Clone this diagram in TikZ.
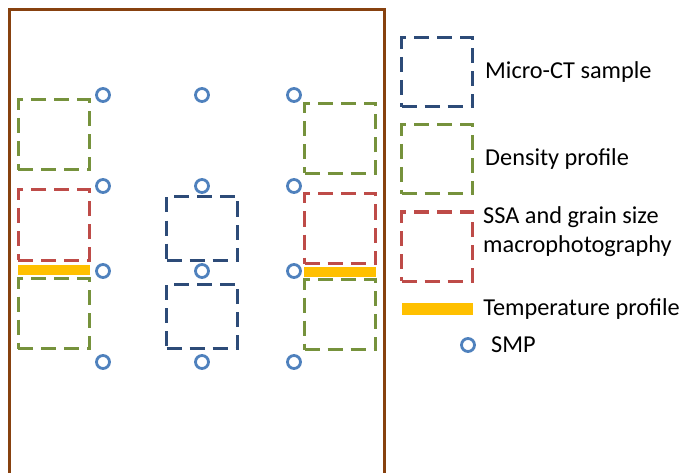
\documentclass[tikz,border=0pt]{standalone}
\usepackage{fontspec}
\setmainfont{Carlito}
\usetikzlibrary{positioning}
\definecolor{frame}{RGB}{135,65,15}
\definecolor{microct}{RGB}{45,75,120}
\definecolor{density}{RGB}{118,146,60}
\definecolor{ssa}{RGB}{190,75,72}
\definecolor{temp}{RGB}{255,192,0}
\definecolor{smp}{RGB}{79,129,189}

\begin{document}
\begin{tikzpicture}[x=1pt, y=-1pt, node distance=11pt]
    % Define styles
    \tikzstyle{sample} = [rectangle, draw, line width=3pt, dash pattern=on 15pt off 8pt, minimum width=71pt, minimum height=70pt, inner sep=0pt]
    \tikzstyle{mctbox} = [sample, draw=microct, minimum height=64pt]
    \tikzstyle{densbox} = [sample, draw=density]
    \tikzstyle{ssabox} = [sample, draw=ssa]
    \tikzstyle{tempbar} = [rectangle, fill=temp, minimum width=72pt, minimum height=10pt, inner sep=0pt]
    \tikzstyle{smp} = [circle, draw=smp, line width=2.8pt, minimum size=13pt, inner sep=0pt]
    \tikzstyle{legtext} = [font=\fontsize{24.3}{29}\selectfont, align=left, inner sep=0pt, anchor=west]

    \useasboundingbox (0,0) rectangle (685,473);
    \clip (0,0) rectangle (685,473);

    % Snow pit wall
    \draw[frame, line width=3pt] (9,10) rectangle (384,495);

    % Left column
    \node (dens-l1) [densbox] at (53.5,135) {};
    \node (ssa-l) [ssabox] at (53.5,225) {};
    \node (temp-l) [tempbar] at (54,269.5) {};
    \node (dens-l2) [densbox] at (53.5,313.5) {};

    % Middle column
    \node (mct-m1) [mctbox] at (202,228.5) {};
    \node (mct-m2) [mctbox] at (202,316) {};

    % Right column
    \node (dens-r1) [densbox] at (340,138.5) {};
    \node (ssa-r) [ssabox] at (340,228.5) {};
    \node (temp-r) [tempbar] at (340,272) {};
    \node (dens-r2) [densbox] at (340,314.5) {};

    % SMP profiles
    \foreach \x/\c in {103/l, 202/m, 294/r}
        \foreach \y/\r in {95/1, 186/2, 271/3, 362/4}
            \node (smp-\c\r) [smp] at (\x,\y) {};

    % Legend
    \node (leg-mct) [sample, draw=microct, minimum height=69pt] at (437,72.5) {};
    \node (leg-dens) [densbox, minimum height=69pt] at (437,159.5) {};
    \node (leg-ssa) [ssabox, minimum height=69pt] at (437,246.5) {};
    \node (leg-temp) [tempbar, minimum width=71pt, minimum height=12pt] at (437.5,309) {};
    \node (leg-smp) [smp] at (468,345) {};

    \node [legtext, right=of leg-mct] {Micro-CT sample};
    \node [legtext, right=of leg-dens] {Density profile};
    \node [legtext] at (483,232) {SSA and grain size\\macrophotography};
    \node [legtext, right=10pt of leg-temp] {Temperature profile};
    \node [legtext, right=15pt of leg-smp] {SMP};
\end{tikzpicture}
\end{document}
